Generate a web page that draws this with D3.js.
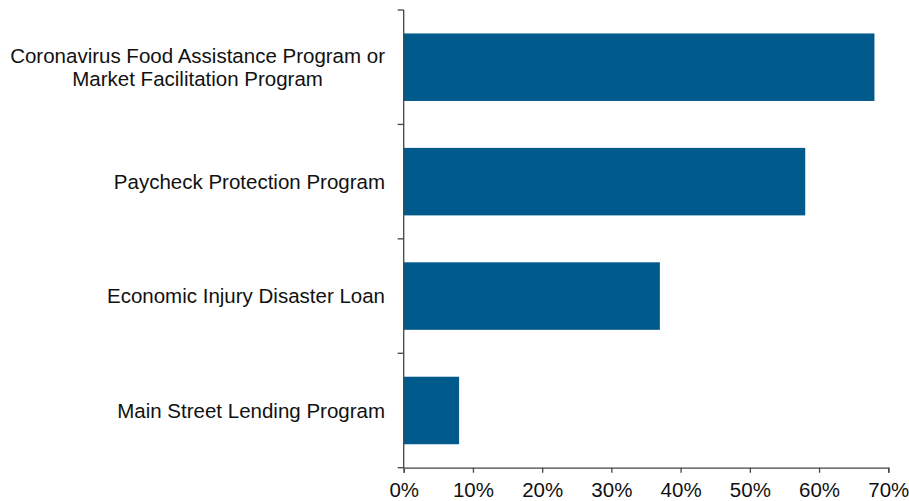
<!DOCTYPE html>
<html>
<head>
<meta charset="utf-8">
<script src="https://cdn.jsdelivr.net/npm/d3@7"></script>
<style>
  html, body { margin: 0; padding: 0; background: #fff; }
  svg { display: block; font-family: "Liberation Sans", Arial, sans-serif; }
</style>
</head>
<body>
<svg id="chart" width="909" height="501"></svg>
<script>
// Share of respondents using each program
const programs = [
  ["Coronavirus Food Assistance Program or", "Market Facilitation Program"],
  ["Paycheck Protection Program"],
  ["Economic Injury Disaster Loan"],
  ["Main Street Lending Program"]
];
const shares = [0.68, 0.58, 0.37, 0.08];
const xTicks = [0, 0.1, 0.2, 0.3, 0.4, 0.5, 0.6, 0.7];

const svg = d3.select("#chart");
const plot = { left: 403.7, right: 888.3, top: 10, bottom: 467.7 };
const barColor = "#005a8c";
const axisColor = "#444";
const fontSize = 20.5;

const keys = programs.map((p, i) => i);
const x = d3.scaleLinear().domain([0, 0.7]).range([plot.left, plot.right]);
const y = d3.scaleBand().domain(keys).range([plot.top, plot.bottom])
  .paddingInner(0.41).paddingOuter(0.205);

// bars
svg.append("g").selectAll("rect").data(shares).join("rect")
  .attr("x", x(0))
  .attr("y", (d, i) => y(i))
  .attr("width", d => x(d) - x(0))
  .attr("height", y.bandwidth())
  .attr("fill", barColor);

// x axis
const xAxis = d3.axisBottom(x).tickValues(xTicks)
  .tickFormat(d3.format(".0%")).tickSizeOuter(0).tickSize(5).tickPadding(10);
const gx = svg.append("g").attr("transform", `translate(0,${plot.bottom})`).call(xAxis);
gx.select(".domain").attr("stroke", axisColor).attr("stroke-width", 1.3);
gx.selectAll(".tick line").attr("stroke", axisColor).attr("stroke-width", 1.3);
gx.selectAll(".tick text").attr("fill", "#111").attr("font-size", fontSize)
  .attr("font-family", "'Liberation Sans', Arial, sans-serif");

// y axis line with ticks at band boundaries
const gy = svg.append("g");
gy.append("line").attr("x1", plot.left).attr("x2", plot.left)
  .attr("y1", plot.top).attr("y2", plot.bottom)
  .attr("stroke", axisColor).attr("stroke-width", 1.3);
const step = y.step();
const edges = d3.range(keys.length + 1).map(i => plot.top + i * step);
gy.selectAll("line.tk").data(edges).join("line").attr("class", "tk")
  .attr("x1", plot.left - 6).attr("x2", plot.left).attr("y1", d => d).attr("y2", d => d)
  .attr("stroke", axisColor).attr("stroke-width", 1.3);

// category labels: block right-aligned, lines centred within the block
const lineH = 23;
const labelRight = 385;
gy.selectAll("text").data(programs).join("text")
  .attr("text-anchor", "middle")
  .attr("font-size", fontSize)
  .attr("fill", "#111")
  .each(function(lines, i) {
    const t = d3.select(this);
    lines.forEach((ln, j) => {
      t.append("tspan").attr("x", 0)
        .attr("y", (j - (lines.length - 1) / 2) * lineH)
        .attr("dy", "0.35em").text(ln);
    });
    const w = d3.max(t.selectAll("tspan").nodes(), n => n.getComputedTextLength());
    t.attr("transform", `translate(${labelRight - w / 2},${y(i) + y.bandwidth() / 2})`);
  });
</script>
</body>
</html>
